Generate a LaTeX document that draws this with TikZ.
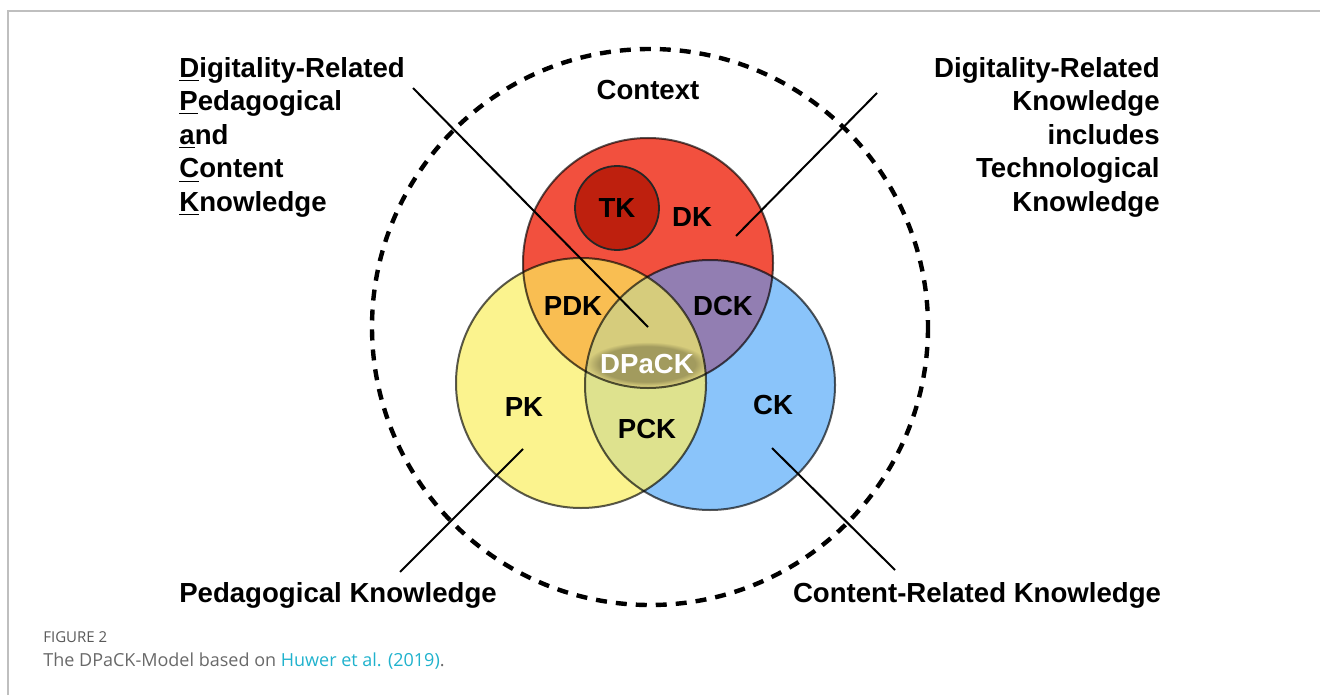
\documentclass[tikz,border=0pt]{standalone}
\usepackage{fontspec}
\setmainfont{Liberation Sans}
\newfontfamily\capfont{Open Sans}
\usetikzlibrary{fadings}
\definecolor{dkred}{RGB}{242,80,62}
\definecolor{tkred}{RGB}{190,32,14}
\definecolor{pkyellow}{RGB}{251,243,142}
\definecolor{ckblue}{RGB}{138,196,250}
\definecolor{pdkorange}{RGB}{249,190,82}
\definecolor{dckpurple}{RGB}{146,126,178}
\definecolor{pckgreen}{RGB}{222,226,142}
\definecolor{dpackolive}{RGB}{214,204,124}
\definecolor{capgray}{RGB}{105,105,105}
\definecolor{linkblue}{RGB}{32,178,205}

\begin{document}
\begin{tikzpicture}[x=0.5pt,y=-0.5pt,
	setlbl/.style={font=\fontsize{13.8}{16}\selectfont\bfseries,inner sep=0},
	sidelbl/.style={font=\fontsize{13.8}{16.75}\selectfont\bfseries,inner sep=0},
	caplbl/.style={anchor=base west,inner sep=0,text=capgray},
	rim/.style={draw=black,line width=1pt,draw opacity=0.65},
	ptr/.style={line width=1pt}]
	\useasboundingbox (0,0) rectangle (1320,695);
	\draw[black!25,line width=0.8pt] (8,695) -- (8,11) -- (1320,11);
	\coordinate (ctx) at (650,327);
	\coordinate (dk) at (648,263);
	\coordinate (pk) at (581,383);
	\coordinate (ck) at (710,385);
	\draw[line width=2.2pt,dash pattern=on 5.5pt off 4.5pt] (ctx) circle[radius=278];
	\fill[pkyellow] (pk) circle[radius=125];
	\fill[ckblue] (ck) circle[radius=125];
	\fill[dkred] (dk) circle[radius=125];
	\begin{scope}
		\clip (ck) circle[radius=125];
		\fill[dckpurple] (dk) circle[radius=125];
	\end{scope}
	\begin{scope}
		\clip (pk) circle[radius=125];
		\fill[pdkorange] (dk) circle[radius=125];
		\fill[pckgreen] (ck) circle[radius=125];
		\clip (ck) circle[radius=125];
		\fill[dpackolive] (dk) circle[radius=125];
	\end{scope}
	\fill[black!30!dpackolive,path fading=circle with fuzzy edge 20 percent,fill opacity=0.8] (647,364) ellipse[x radius=60,y radius=22];
	\draw[rim] (pk) circle[radius=125];
	\draw[rim] (ck) circle[radius=125];
	\draw[rim] (dk) circle[radius=125];
	\node[circle,fill=tkred,draw=black!85,line width=0.9pt,minimum size=42pt,inner sep=0] (tk) at (617,208) {};
	\node[setlbl] (tklbl) at (617,208) {TK};
	\node[setlbl] (dklbl) at (692,217) {DK};
	\node[setlbl] (pdklbl) at (573,306) {PDK};
	\node[setlbl] (dcklbl) at (723,306) {DCK};
	\node[setlbl,text=white] (dpacklbl) at (647,364) {DPaCK};
	\node[setlbl] (pklbl) at (524,407) {PK};
	\node[setlbl] (pcklbl) at (647,429) {PCK};
	\node[setlbl] (cklbl) at (773,405) {CK};
	\node[setlbl] (ctxlbl) at (648,90) {Context};
	\node[sidelbl,anchor=north west,align=left] (dpacknote) at (179,57) {\underline{D}igitality-Related\\\underline{P}edagogical\\\underline{a}nd\\\underline{C}ontent\\\underline{K}nowledge};
	\node[sidelbl,anchor=north east,align=right] (dknote) at (1160,57) {Digitality-Related\\Knowledge\\includes\\Technological\\Knowledge};
	\node[sidelbl,anchor=base] (pknote) at (338,602) {Pedagogical Knowledge};
	\node[sidelbl,anchor=base] (cknote) at (977,602) {Content-Related Knowledge};
	\coordinate (dpack-tip) at (648,327);
	\coordinate (dpack-end) at (413,88);
	\coordinate (dk-tip) at (736,236);
	\coordinate (dk-end) at (877,93);
	\coordinate (pk-tip) at (523,449);
	\coordinate (pk-end) at (400,572);
	\coordinate (ck-tip) at (772,448);
	\coordinate (ck-end) at (895,570);
	\draw[ptr] (dpack-end) -- (dpack-tip);
	\draw[ptr] (dk-end) -- (dk-tip);
	\draw[ptr] (pk-end) -- (pk-tip);
	\draw[ptr] (ck-end) -- (ck-tip);
	\node[caplbl,font=\capfont\fontsize{7.5}{9}\selectfont,text=black!65] (fig) at (43,642) {FIGURE 2};
	\node[caplbl,font=\capfont\fontsize{9}{11}\selectfont] (cap) at (43,666) {The DPaCK-Model based on \textcolor{linkblue}{Huwer et al. (2019)}.};
\end{tikzpicture}
\end{document}
